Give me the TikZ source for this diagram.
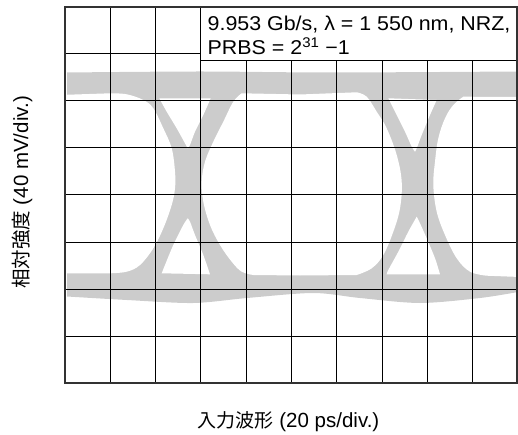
\documentclass[tikz,border=0pt]{standalone}
\usepackage{fontspec}
\setmainfont{Liberation Sans}
\newfontfamily\cjkfont{Noto Sans CJK JP}
\newfontfamily\legendfont[FakeStretch = 1.07]{Liberation Sans}
\definecolor{eyegray}{RGB}{204,204,204}
\definecolor{framegray}{RGB}{50,50,50}
\tikzset{
	gridline/.style = {draw = black, line width = 1pt},
	eyeband/.style = {fill = eyegray},
	eyehole/.style = {fill = white},
	legendtext/.style = {font = \legendfont\fontsize{20}{24}\selectfont, inner sep = 0pt},
	axislabel/.style = {font = \fontsize{20.5}{24}\selectfont, inner sep = 0pt},
}

\begin{document}
\begin{tikzpicture}[x = 1pt, y = -1pt]
	\useasboundingbox (0,0) rectangle (518,435);

	\fill[eyeband] plot[smooth, tension = 0.5] coordinates {(67,72.5) (200,71.5) (330,72.5) (518,71.5)}
		-- (518,292)
		-- plot[smooth, tension = 0.5] coordinates {(518,292) (480,298) (420,303) (360,298) (313,293) (247,298) (193,303) (127,300) (67,296.5)}
		-- cycle;

	\fill[eyehole] (60,95) -- (110,93.3)
		-- plot[smooth, tension = 0.6] coordinates {(110,93.3) (126.7,94.3) (143.3,100) (153.3,108.3) (163.3,128.3) (171.7,148.3) (175,171.7) (175,188.3) (171.7,205) (163.3,228.3) (153.3,248.3) (140,265) (126.7,271.7) (110,273.3)}
		-- (60,273.5) -- cycle;
	\fill[eyehole] (241.7,93.3) -- (300,94.5) -- (356.7,92.3)
		-- plot[smooth, tension = 0.6] coordinates {(356.7,92.3) (366.7,96.7) (376.7,111.7) (386.7,128.3) (396.7,155) (401.7,181.7) (400,208.3) (393.3,231.7) (383.3,255) (371.7,268.3) (356.7,275)}
		-- (300,275.5) -- (253.3,275)
		-- plot[smooth, tension = 0.6] coordinates {(253.3,275) (241.7,271.7) (231.7,261.7) (220,245) (210,225) (203.3,201.7) (201.7,181.7) (205,161.7) (213.3,141.7) (223.3,121.7) (233.3,101.7) (241.7,93.3)}
		-- cycle;
	\fill[eyehole] (463.3,96.7) -- (520,97) -- (520,277) -- (486.7,275.7)
		-- plot[smooth, tension = 0.6] coordinates {(486.7,275.7) (470,271.7) (456.7,258.3) (445,235) (436.7,211.7) (433.3,185) (435,161.7) (438.3,138.3) (445,118.3) (453.3,105) (463.3,96.7)}
		-- cycle;

	\fill[eyehole] plot[smooth, tension = 0.5] coordinates {(159.3,98.3) (166.7,111.7) (176.7,128.3) (185,143.3) (187.7,148.3)}
		-- plot[smooth, tension = 0.5] coordinates {(187.7,148.3) (190,145) (195,131.7) (203.3,115) (210.7,98.3)} -- cycle;
	\fill[eyehole] plot[smooth, tension = 0.5] coordinates {(187.7,218.3) (183.3,225) (173.3,245) (165,265) (161.7,273.3)}
		-- (210,274.3)
		-- plot[smooth, tension = 0.5] coordinates {(210,274.3) (203.3,255) (195,235) (190,221.7) (187.7,218.3)} -- cycle;
	\fill[eyehole] plot[smooth, tension = 0.5] coordinates {(388.3,98.3) (395,111.7) (405,131.7) (411.7,146.7) (415,151.7)}
		-- plot[smooth, tension = 0.5] coordinates {(415,151.7) (416.7,148.3) (421.7,135) (430,115) (436.7,100)} -- cycle;
	\fill[eyehole] plot[smooth, tension = 0.5] coordinates {(416.7,216.7) (408.3,231.7) (398.3,251.7) (388.3,270) (386.7,274.3)}
		-- (440,274.3)
		-- plot[smooth, tension = 0.5] coordinates {(440,274.3) (435,258.3) (426.7,238.3) (420,223.3) (416.7,216.7)} -- cycle;

	\draw[gridline]
		(110.3,7) -- (110.3,383)
		(155.6,7) -- (155.6,383)
		(200.9,7) -- (200.9,383)
		(246.2,7) -- (246.2,383)
		(291.5,7) -- (291.5,383)
		(336.8,7) -- (336.8,383)
		(382.1,7) -- (382.1,383)
		(427.4,7) -- (427.4,383)
		(472.7,7) -- (472.7,383)
		(65,54) -- (518,54)
		(65,101) -- (518,101)
		(65,148) -- (518,148)
		(65,195) -- (518,195)
		(65,242) -- (518,242)
		(65,289) -- (518,289)
		(65,336) -- (518,336);

	\draw[fill = white, line width = 1pt] (200.9,7) rectangle (520,61);
	\draw[framegray, line width = 2.6pt] (65,7) rectangle (517.5,383);

	\node[legendtext, anchor = base west] (rate) at (207.5,31) {9.953 Gb/s, λ = 1 550 nm, NRZ,};
	\node[legendtext, anchor = base west] (prbs) at (207.5,55) {PRBS = 2\textsuperscript{31} −1};

	\node[axislabel, anchor = base] (xlabel) at (288.5,427) {{\cjkfont\fontsize{19}{22}\selectfont 入力波形} (20 ps/div.)};
	\node[axislabel, anchor = base, rotate = 90] (ylabel) at (28,192.5) {{\cjkfont\fontsize{19.5}{23}\selectfont 相対強度} (40 mV/div.)};
\end{tikzpicture}
\end{document}
